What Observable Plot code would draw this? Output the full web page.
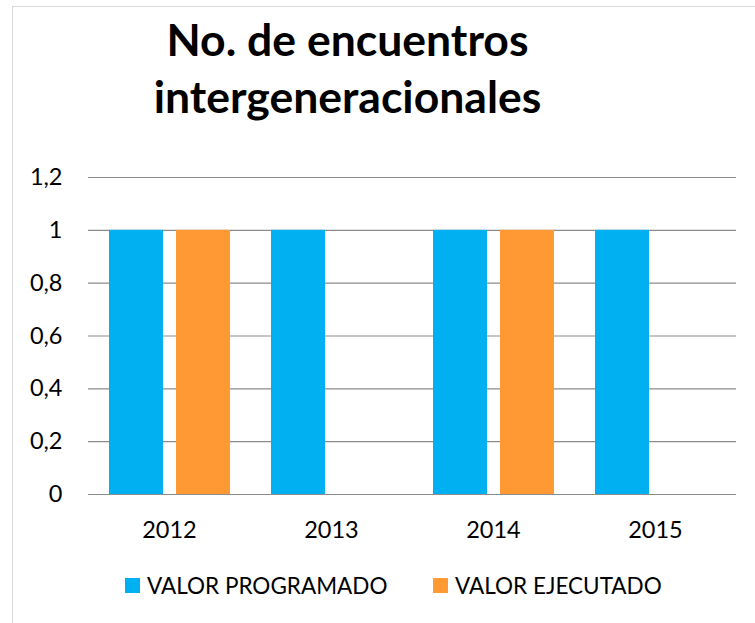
<!DOCTYPE html>
<html>
<head>
<meta charset="utf-8">
<script src="https://cdn.jsdelivr.net/npm/d3@7"></script>
<script src="https://cdn.jsdelivr.net/npm/@observablehq/plot@0.6"></script>
<style>
  html, body { margin: 0; padding: 0; background: #fff; }
  #wrap { position: relative; width: 755px; height: 623px; overflow: hidden; font-family: Lato, "Open Sans", sans-serif; color: #000; }
  #frame { position: absolute; left: 12px; top: 6px; width: 800px; height: 700px; border: 1px solid #d9d9d9; box-sizing: border-box; }
  #title { position: absolute; left: 0; width: 695px; top: 0; text-align: center; font-weight: 700; font-size: 44.5px; line-height: 56.5px; padding-top: 11px; }
  #chart { position: absolute; left: 0; top: 150px; }
  .leg { position: absolute; top: 572px; display: flex; align-items: center; font-size: 22.5px; height: 26px; white-space: nowrap; }
  .sw { width: 15px; height: 15px; margin-right: 7px; display: inline-block; }
</style>
</head>
<body>
<div id="wrap">
  <div id="frame"></div>
  <div id="title">No. de encuentros<br>intergeneracionales</div>
  <div id="chart"></div>
  <div id="legend"></div>
</div>
<script>
const years = ["2012", "2013", "2014", "2015"];
const seriesNames = ["VALOR PROGRAMADO", "VALOR EJECUTADO"];
const programado = [1, 1, 1, 1];
const ejecutado = [1, 0, 1, 0];
const seriesColors = ["#00B0F0", "#FF9933"];
const yTicks = [0, 0.2, 0.4, 0.6, 0.8, 1, 1.2];

const data = [];
years.forEach((yr, i) => {
  data.push({year: yr, series: seriesNames[0], value: programado[i]});
  data.push({year: yr, series: seriesNames[1], value: ejecutado[i]});
});

const fmt = d => String(d).replace(".", ",");

const chart = Plot.plot({
  width: 755,
  height: 405,
  marginLeft: 88,
  marginRight: 19,
  marginTop: 27,
  marginBottom: 61,
  style: {fontFamily: "Lato, 'Open Sans', sans-serif", fontSize: "23.5px", color: "#000", background: "transparent"},
  fx: {domain: years, padding: 0, axis: "bottom", tickSize: 0, tickPadding: 27, label: null},
  x: {domain: seriesNames, paddingInner: 0.2, paddingOuter: 0.3, axis: null},
  y: {domain: [0, 1.2], ticks: yTicks, tickFormat: fmt, tickSize: 0, tickPadding: 26, label: null},
  color: {domain: seriesNames, range: seriesColors},
  marks: [
    Plot.gridY(yTicks, {stroke: "#8c8c8c", strokeOpacity: 1, strokeWidth: 1.2}),
    Plot.barY(data, {fx: "year", x: "series", y: "value", fill: "series"})
  ]
});
document.getElementById("chart").appendChild(chart);

const legend = document.getElementById("legend");
const legLefts = [125, 433];
seriesNames.forEach((name, i) => {
  const item = document.createElement("div");
  item.className = "leg";
  item.style.left = legLefts[i] + "px";
  const sw = document.createElement("span");
  sw.className = "sw";
  sw.style.background = seriesColors[i];
  item.appendChild(sw);
  item.appendChild(document.createTextNode(name));
  legend.appendChild(item);
});
</script>
</body>
</html>
